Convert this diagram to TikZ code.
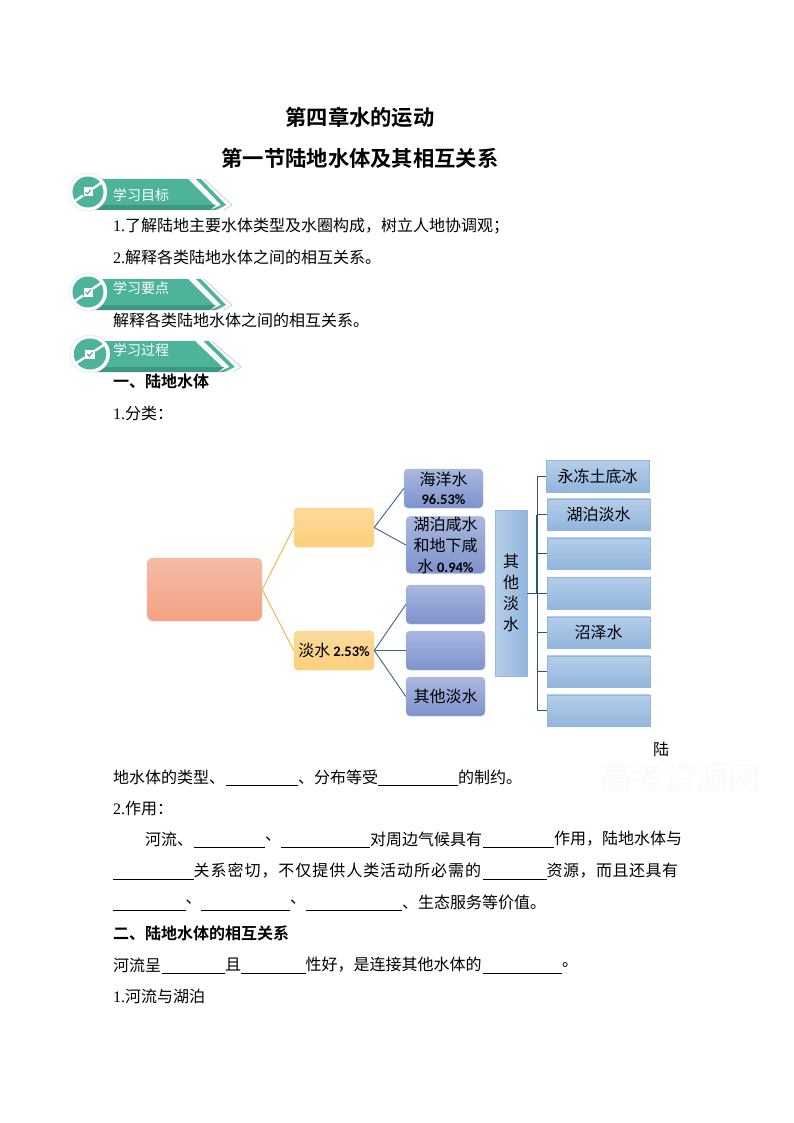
\documentclass[tikz,border=0pt]{standalone}
\usepackage{fontspec}
\setmainfont{Noto Sans CJK SC}[BoldFont={Noto Sans CJK SC Bold}]
\newfontfamily\latf{Liberation Serif}
\newfontfamily\calf{Carlito}[BoldFont={Carlito Bold}]
\newcommand{\lat}[1]{{\latf #1}}
\newcommand{\qcm}{^^^^ff0c}
\newcommand{\qsc}{^^^^ff1b}
\newcommand{\qcl}{^^^^ff1a}
\newcommand{\lsp}[1]{\addfontfeature{LetterSpace=#1}}
\definecolor{teal1}{HTML}{4DB39B}
\definecolor{teal2}{HTML}{3C9883}
\definecolor{ylink}{HTML}{E6BC4A}
\definecolor{blink}{HTML}{41618F}
\definecolor{dlink}{HTML}{2E5272}
\definecolor{rtop}{HTML}{F5BCA5}
\definecolor{rbot}{HTML}{F4A183}
\definecolor{ytop}{HTML}{FDDA9C}
\definecolor{ybot}{HTML}{FDCF7C}
\definecolor{ptop}{HTML}{AAB8DF}
\definecolor{pbot}{HTML}{7E92CC}
\definecolor{stop}{HTML}{B5CEE9}
\definecolor{sbot}{HTML}{92B5DD}
\newcommand{\bannershape}[3]{%
\begin{scope}[shift={(#1,#2)},xscale=#3]
  \fill[teal2] (5,13)--(128,13)--(122,18)--(5,18)--cycle;
  \fill[teal1] (0,-13)--(100,-13)--(126,13)--(0,13)--cycle;
  \fill[teal1] (108,-13)--(113,-13)--(138,13)--(128,18)--(122,18)--(133,13)--cycle;
  \draw[black!25,line width=.5pt] (116,-13)--(144,13)--(136,18);
  \fill[white] (0,0) circle (19);
  \draw[black!12,line width=.4pt] (0,0) circle (19);
  \fill[teal1] (0,0) circle (15.5);
  \draw[white,line width=2.4pt] (-13,9)--(-5,3.5) (5,-3.5)--(13,-9);
  \fill[white] (-4.5,-4.5) rectangle (4.5,4.5);
  \draw[teal2,line width=.9pt] (-2.5,0)--(-.6,2)--(2.6,-2);
\end{scope}}
\tikzset{
  x=1pt,y=-1pt,
  txt/.style={anchor=west,inner sep=0pt,font=\fontsize{16}{16}\selectfont},
  hd/.style={anchor=center,inner sep=0pt,font=\fontsize{21.3}{21}\selectfont\bfseries},
  bn/.style={anchor=west,inner sep=0pt,text=white,font=\fontsize{14}{14}\selectfont},
  bld/.style={txt,font=\fontsize{16}{16}\selectfont\bfseries},
  gap/.style={line width=.9pt,black},
  base/.style={inner sep=0pt,align=center,font=\fontsize{16}{21}\selectfont},
  ybox/.style={base,rounded corners=4pt,minimum width=80pt,minimum height=39pt,draw=ybot,top color=ytop,bottom color=ybot},
  pbox/.style={base,rounded corners=4pt,minimum width=79pt,draw=ptop,top color=ptop,bottom color=pbot},
  sbox/.style={base,minimum width=103pt,minimum height=31.5pt,draw=sbot,top color=stop,bottom color=sbot},
  ylk/.style={ylink,line width=1pt},
  blk/.style={blink,line width=.9pt},
  dlk/.style={dlink,line width=.9pt}
}
\newcommand{\pc}[1]{{\calf\bfseries\fontsize{14.5}{21}\selectfont #1}}
\begin{document}
\begin{tikzpicture}
\useasboundingbox[fill=white] (0,0) rectangle (794,1123);
% watermark
\node[anchor=center,inner sep=0pt,text=black!2,font=\fontsize{32}{32}\selectfont] (wm) at (680,777) {高考资源网};
% headings
\node[hd] (h1) at (360,117) {第四章水的运动};
\node[hd] (h2) at (360,158) {第一节陆地水体及其相互关系};
% banners
\bannershape{88}{192}{1}
\bannershape{88}{292}{1}
\bannershape{90}{354}{1.05}
\node[bn] (b1) at (113,195) {学习目标};
\node[bn] (b2) at (113,288) {学习要点};
\node[bn] (b3) at (113,350) {学习过程};
% text
\node[txt] (t1) at (113,226) {\lat{1.}了解陆地主要水体类型及水圈构成\qcm{}树立人地协调观\qsc{}};
\node[txt] (t2) at (113,257) {\lat{2.}解释各类陆地水体之间的相互关系。};
\node[txt] (t3) at (113,320) {解释各类陆地水体之间的相互关系。};
\node[bld] (t4) at (113,381) {一、陆地水体};
\node[txt] (t5) at (113,413) {\lat{1.}分类\qcl{}};
% diagram nodes
\node[base,rounded corners=6pt,minimum width=115pt,minimum height=63pt,draw=rbot!70,top color=rtop,bottom color=rbot] (root) at (204.5,589.5) {};
\node[ybox] (y1) at (334,527.5) {};
\node[ybox] (y2) at (334,650.5) {淡水\hspace{3pt}\pc{2.53\%}};
\node[pbox,minimum height=39pt] (p1) at (443.5,488.5) {海洋水\\[-2pt]\pc{96.53\%}};
\node[pbox,minimum height=56pt] (p2) at (445.5,545) {湖泊咸水\\和地下咸\\水 \pc{0.94\%}};
\node[pbox,minimum height=39pt] (p3) at (445.5,604.5) {};
\node[pbox,minimum height=39pt] (p4) at (445.5,650.5) {};
\node[pbox,minimum height=39pt] (p5) at (445.5,696.5) {其他淡水};
\node[base,minimum width=32pt,minimum height=166pt,draw=sbot,left color=stop,right color=sbot] (tall) at (511,593) {其\\他\\淡\\水};
\node[sbox] (s1) at (597.5,476) {永冻土底冰};
\node[sbox] (s2) at (598.5,514.5) {湖泊淡水};
\node[sbox] (s3) at (598.5,553.5) {};
\node[sbox] (s4) at (598.5,593) {};
\node[sbox] (s5) at (598.5,632.5) {沼泽水};
\node[sbox] (s6) at (598.5,671.5) {};
\node[sbox] (s7) at (598.5,710.5) {};
% connectors
\draw[ylk] (root.east)--(y1.west);
\draw[ylk] (root.east)--(y2.west);
\draw[blk] (y1.east)--(p1.west);
\draw[blk] (y1.east)--(p2.west);
\draw[blk] (y2.east)--(p3.west);
\draw[blk] (y2.east)--(p4.west);
\draw[blk] (y2.east)--(p5.west);
\coordinate (bus) at (537,593);
\draw[dlk] (tall.east)--(bus);
\draw[dlk] (bus|-s1.west)--(bus|-s7.west);
\draw[dlink,line width=1.8pt] (bus|-s2.west)--(bus);
\foreach \n in {s1,s2,s3,s4,s5,s6,s7}{\draw[dlk] (bus|-\n.west)--(\n.west);}
% lower text
\node[txt] (l0) at (653,749) {陆};
\node[txt] (l1a) at (113,777) {地水体的类型、};
\node[txt] (l1b) at (298,777) {、分布等受};
\node[txt] (l1c) at (458,777) {的制约。};
\coordinate (g1a) at (226,785); \coordinate (g1b) at (298,785);
\coordinate (g2a) at (378,785); \coordinate (g2b) at (458,785);
\draw[gap] (g1a)--(g1b); \draw[gap] (g2a)--(g2b);
\node[txt] (l2) at (113,808) {\lat{2.}作用\qcl{}};
\node[txt] (l3a) at (145,839) {河流、};
\node[txt] (l3b) at (265,839) {、};
\node[txt] (l3c) at (370,839) {对周边气候具有};
\node[txt] (l3d) at (554,839) {作用\qcm{}陆地水体与};
\coordinate (g3a) at (193.5,847); \coordinate (g3b) at (265,847);
\coordinate (g4a) at (281,847); \coordinate (g4b) at (370,847);
\coordinate (g5a) at (483,847); \coordinate (g5b) at (554,847);
\draw[gap] (g3a)--(g3b); \draw[gap] (g4a)--(g4b); \draw[gap] (g5a)--(g5b);
\node[txt] (l4a) at (193.5,871) {\lsp{6}关系密切\qcm{}不仅提供人类活动所必需的};
\node[txt] (l4b) at (546.5,871) {\lsp{3}资源\qcm{}而且还具有};
\coordinate (g6a) at (113,879); \coordinate (g6b) at (193.5,879);
\coordinate (g7a) at (483,879); \coordinate (g7b) at (546.5,879);
\draw[gap] (g6a)--(g6b); \draw[gap] (g7a)--(g7b);
\node[txt] (l5a) at (185.5,902) {、};
\node[txt] (l5b) at (290,902) {、};
\node[txt] (l5c) at (402,902) {、生态服务等价值。};
\coordinate (g8a) at (113,910); \coordinate (g8b) at (185.5,910);
\coordinate (g9a) at (201,910); \coordinate (g9b) at (290,910);
\coordinate (g10a) at (305.5,910); \coordinate (g10b) at (402,910);
\draw[gap] (g8a)--(g8b); \draw[gap] (g9a)--(g9b); \draw[gap] (g10a)--(g10b);
\node[bld] (l6) at (113,933) {二、陆地水体的相互关系};
\node[txt] (l7a) at (113,965) {河流呈};
\node[txt] (l7b) at (225,965) {且};
\node[txt] (l7c) at (305.5,965) {性好\qcm{}是连接其他水体的};
\node[txt] (l7d) at (562,965) {。};
\coordinate (g11a) at (162,973); \coordinate (g11b) at (225,973);
\coordinate (g12a) at (241,973); \coordinate (g12b) at (305.5,973);
\coordinate (g13a) at (483,973); \coordinate (g13b) at (562,973);
\draw[gap] (g11a)--(g11b); \draw[gap] (g12a)--(g12b); \draw[gap] (g13a)--(g13b);
\node[txt] (l8) at (113,996) {\lat{1.}河流与湖泊};
\end{tikzpicture}
\end{document}
